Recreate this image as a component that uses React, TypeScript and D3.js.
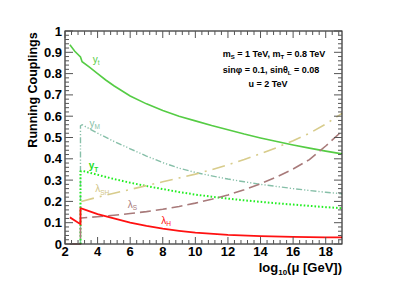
import React from "react";
import * as d3 from "d3";

// running couplings vs log10(mu)
const yt: [number, number][] = [
  [2.3, 0.935], [2.6, 0.905], [2.95, 0.878], [3.05, 0.856], [3.5, 0.83], [4, 0.8],
  [4.5, 0.77], [5, 0.743], [6, 0.695], [7, 0.658], [8, 0.627], [9, 0.6], [10, 0.578],
  [11, 0.556], [12, 0.536], [13, 0.516], [14, 0.498], [15, 0.481], [16, 0.465],
  [17, 0.45], [18, 0.436], [19, 0.423],
];
const yM: [number, number][] = [
  [2.95, 0], [2.95, 0.555], [3.05, 0.56], [4, 0.52], [5, 0.482], [6, 0.447], [7, 0.413],
  [8, 0.382], [9, 0.356], [10, 0.336], [11, 0.32], [12, 0.305], [13, 0.292], [14, 0.28],
  [15, 0.27], [16, 0.26], [17, 0.251], [18, 0.243], [19, 0.236],
];
const yT: [number, number][] = [
  [2.95, 0], [2.95, 0.34], [3.1, 0.343], [4, 0.325], [5, 0.305], [6, 0.288], [7, 0.272],
  [8, 0.258], [9, 0.244], [10, 0.232], [11, 0.222], [12, 0.213], [13, 0.205], [14, 0.198],
  [15, 0.191], [16, 0.185], [17, 0.179], [18, 0.173], [19, 0.168],
];
const lamSH: [number, number][] = [
  [3, 0.2], [4, 0.22], [5, 0.238], [6, 0.256], [7, 0.274], [8, 0.292], [9, 0.31],
  [10, 0.328], [11, 0.349], [12, 0.372], [13, 0.397], [14, 0.424], [15, 0.453],
  [16, 0.485], [17, 0.52], [18, 0.563], [19, 0.613],
];
const lamS: [number, number][] = [
  [2.3, 0], [2.95, 0], [2.95, 0.12], [3, 0.122], [4, 0.128], [5, 0.135], [6, 0.143],
  [7, 0.152], [8, 0.163], [9, 0.176], [10, 0.192], [11, 0.21], [12, 0.23], [13, 0.255],
  [14, 0.283], [15, 0.315], [16, 0.352], [17, 0.396], [18, 0.46], [19, 0.53],
];
const lamH: [number, number][] = [
  [2.3, 0.125], [2.6, 0.11], [2.95, 0.093], [2.95, 0.167], [3, 0.167], [4, 0.14],
  [5, 0.12], [6, 0.1], [7, 0.085], [8, 0.072], [9, 0.062], [10, 0.053], [12, 0.043],
  [14, 0.037], [16, 0.033], [18, 0.031], [19, 0.031],
];

const xTicks = [2, 4, 6, 8, 10, 12, 14, 16, 18];
const yTicks = [0, 0.1, 0.2, 0.3, 0.4, 0.5, 0.6, 0.7, 0.8, 0.9, 1];

// curve label anchors (data coords)
const labels = [
  { base: "y", sub: "t", color: "#55cc44", at: [3.7, 0.852], bold: false },
  { base: "y", sub: "M", color: "#86bfa8", at: [3.5, 0.55], bold: false },
  { base: "y", sub: "T", color: "#22dd22", at: [3.45, 0.352], bold: true },
  { base: "λ", sub: "SH", color: "#d2c688", at: [3.85, 0.244], bold: false },
  { base: "λ", sub: "S", color: "#a87a7a", at: [5.85, 0.17], bold: false },
  { base: "λ", sub: "H", color: "#ff1111", at: [7.9, 0.094], bold: false },
];

const series = [
  { name: "yt", data: yt, color: "#55cc44", width: 1.6, dash: "none" },
  { name: "yM", data: yM, color: "#86bfa8", width: 1.4, dash: "6,2,1.2,2,1.2,2" },
  { name: "yT", data: yT, color: "#22ee22", width: 2, dash: "1.6,2" },
  { name: "lamSH", data: lamSH, color: "#d8cc8c", width: 1.6, dash: "13,6,2,6" },
  { name: "lamS", data: lamS, color: "#a87a7a", width: 1.6, dash: "11,5" },
  { name: "lamH", data: lamH, color: "#ff1111", width: 1.8, dash: "none" },
];

const W = 407;
const H = 292;
const left = 65;
const right = 342;
const top = 31;
const bottom = 244;
const font = "'Liberation Sans', Arial, Helvetica, sans-serif";

export default function App() {
  const x = d3.scaleLinear().domain([2, 19]).range([left, right]);
  const y = d3.scaleLinear().domain([0, 1]).range([bottom, top]);
  const line = d3
    .line<[number, number]>()
    .x((d) => x(d[0]))
    .y((d) => y(d[1]));

  const xMinor = d3.range(2, 19.001, 0.4).filter((v) => !xTicks.some((t) => Math.abs(t - v) < 1e-6));
  const yMinor = d3.range(0, 1.0001, 0.02).filter((v) => !yTicks.some((t) => Math.abs(t - v) < 1e-6));

  return (
    <svg
      width={W}
      height={H}
      style={{ position: "absolute", left: 0, top: 0, background: "#fff" }}
    >
      <rect x={0} y={0} width={W} height={H} fill="#fff" />
      <g>
        {series.map((s) => (
          <path
            key={s.name}
            d={line(s.data) || ""}
            fill="none"
            stroke={s.color}
            strokeWidth={s.width}
            strokeDasharray={s.dash}
          />
        ))}
      </g>

      {/* frame + ticks */}
      <rect x={left} y={top} width={right - left} height={bottom - top} fill="none" stroke="#000" strokeWidth={1} />
      <g stroke="#555" strokeWidth={1}>
        {yTicks.map((t) => (
          <g key={"ym" + t}>
            <line x1={left} x2={left + 8} y1={y(t)} y2={y(t)} />
            <line x1={right} x2={right - 8} y1={y(t)} y2={y(t)} />
          </g>
        ))}
        {yMinor.map((t) => (
          <g key={"yn" + t}>
            <line x1={left} x2={left + 4} y1={y(t)} y2={y(t)} />
            <line x1={right} x2={right - 4} y1={y(t)} y2={y(t)} />
          </g>
        ))}
        {xTicks.map((t) => (
          <g key={"xm" + t}>
            <line x1={x(t)} x2={x(t)} y1={bottom} y2={bottom - 7} />
            <line x1={x(t)} x2={x(t)} y1={top} y2={top + 7} />
          </g>
        ))}
        {xMinor.map((t) => (
          <g key={"xn" + t}>
            <line x1={x(t)} x2={x(t)} y1={bottom} y2={bottom - 4} />
            <line x1={x(t)} x2={x(t)} y1={top} y2={top + 4} />
          </g>
        ))}
      </g>

      {/* tick labels */}
      <g fontFamily={font} fontSize={13} fontWeight="bold" fill="#000">
        {yTicks.map((t) => (
          <text key={"yl" + t} x={left - 3} y={y(t) + 4.5} textAnchor="end">
            {t === 0 ? "0" : t === 1 ? "1" : t.toFixed(1)}
          </text>
        ))}
        {xTicks.map((t) => (
          <text key={"xl" + t} x={x(t)} y={bottom + 12} textAnchor="middle">
            {t}
          </text>
        ))}
      </g>

      {/* axis titles */}
      <text
        transform={`translate(37, 90) rotate(-90)`}
        textAnchor="middle"
        fontFamily={font}
        fontSize={12.5}
        fontWeight="bold"
      >
        Running Couplings
      </text>
      <text x={right} y={272} textAnchor="end" fontFamily={font} fontSize={13} fontWeight="bold">
        log
        <tspan fontSize={8} dy={3}>10</tspan>
        <tspan dy={-3}>(μ [GeV])</tspan>
      </text>

      {/* annotation */}
      <g fontFamily={font} fontSize={9} fontWeight="bold" textAnchor="middle">
        <text x={274} y={57}>
          m<tspan fontSize={6} dy={2}>S</tspan>
          <tspan dy={-2}> = 1 TeV, m</tspan>
          <tspan fontSize={6} dy={2}>T</tspan>
          <tspan dy={-2}> = 0.8 TeV</tspan>
        </text>
        <text x={271} y={72.5}>
          sinφ = 0.1, sinθ<tspan fontSize={6} dy={2}>L</tspan>
          <tspan dy={-2}> = 0.08</tspan>
        </text>
        <text x={268} y={87}>
          u = 2 TeV
        </text>
      </g>

      {/* curve labels */}
      {labels.map((l) => (
        <text
          key={l.base + l.sub}
          x={x(l.at[0])}
          y={y(l.at[1])}
          fill={l.color}
          fontFamily={font}
          fontSize={10}
          fontWeight={l.bold ? "bold" : "normal"}
        >
          {l.base}
          <tspan fontSize={6.5} dy={2.5}>{l.sub}</tspan>
        </text>
      ))}
    </svg>
  );
}
